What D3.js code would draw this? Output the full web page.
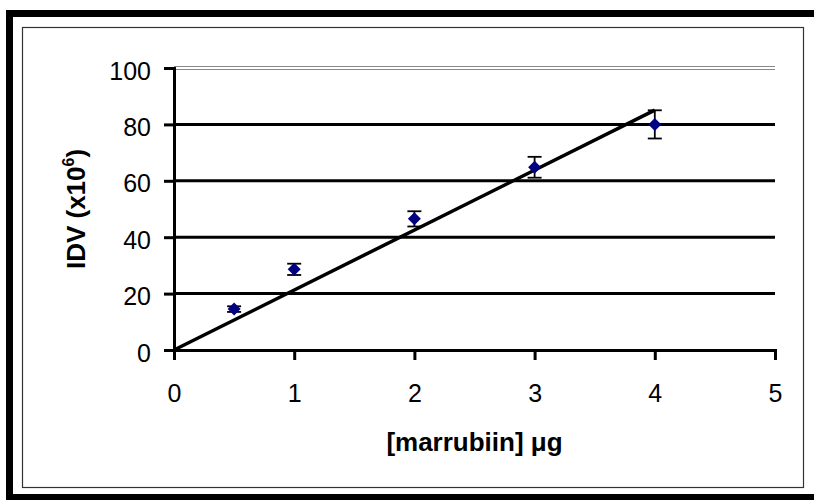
<!DOCTYPE html>
<html>
<head>
<meta charset="utf-8">
<script src="https://cdn.jsdelivr.net/npm/d3@7"></script>
<style>
  html, body { margin: 0; padding: 0; background: #fff; overflow: hidden; }
  svg { display: block; }
  text { font-family: Arial, "Liberation Sans", sans-serif; fill: #000; }
</style>
</head>
<body>
<svg id="chart" width="814" height="500"></svg>
<script>
// Marrubiin calibration data
const amounts = [0.5, 1, 2, 3, 4];          // [marrubiin] µg
const idv = [14.5, 28.6, 46.5, 64.8, 80.0]; // IDV (x10^6)
const idvError = [1.0, 2.0, 2.7, 3.7, 5.0]; // ± error
const xTicks = [0, 1, 2, 3, 4, 5];
const yTicks = [0, 20, 40, 60, 80, 100];

const FONT = "Arial, 'Liberation Sans', sans-serif";
const svg = d3.select("#chart");

// Heavy frame: top, left and bottom bands (open to the right edge)
const frame = svg.append("g").attr("fill", "#000");
frame.append("rect").attr("x", 6).attr("y", 10).attr("width", 808).attr("height", 7);
frame.append("rect").attr("x", 6).attr("y", 10).attr("width", 7).attr("height", 490);
frame.append("rect").attr("x", 6).attr("y", 494).attr("width", 808).attr("height", 6);

// Chart area border
svg.append("rect")
  .attr("x", 22.5).attr("y", 27.5)
  .attr("width", 781).attr("height", 460)
  .attr("fill", "#fff").attr("stroke", "#333").attr("stroke-width", 1.2);

const x = d3.scaleLinear().domain([0, 5]).range([174, 775]);
const y = d3.scaleLinear().domain([0, 100]).range([350, 68]);

// Horizontal gridlines
const g = svg.append("g");
g.selectAll("line.grid")
  .data(yTicks.filter(v => v > 0 && v < 100))
  .join("line")
  .attr("class", "grid")
  .attr("x1", x(0)).attr("x2", x(5))
  .attr("y1", d => y(d)).attr("y2", d => y(d))
  .attr("stroke", "#000").attr("stroke-width", 3);

// Top boundary at 100 rendered as a double rule
[-1.5, 1.5].forEach(off => {
  g.append("line")
    .attr("x1", x(0)).attr("x2", x(5))
    .attr("y1", y(100) + off).attr("y2", y(100) + off)
    .attr("stroke", "#888").attr("stroke-width", 1);
});

// Y axis
const yAxis = d3.axisLeft(y).tickValues(yTicks).tickSize(10).tickPadding(13)
  .tickFormat(d3.format("d"));
const yg = svg.append("g").attr("transform", `translate(${x(0)},0)`).call(yAxis);
yg.select(".domain").attr("stroke", "#000").attr("stroke-width", 3);
yg.selectAll(".tick line").attr("stroke", "#000").attr("stroke-width", 3);
yg.selectAll(".tick text")
  .attr("font-size", 25).attr("font-family", FONT).attr("dy", "0.44em");

// X axis
const xAxis = d3.axisBottom(x).tickValues(xTicks).tickSize(10).tickPadding(24)
  .tickFormat(d3.format("d"));
const xg = svg.append("g").attr("transform", `translate(0,${y(0)})`).call(xAxis);
xg.select(".domain").attr("stroke", "#000").attr("stroke-width", 3);
xg.selectAll(".tick line").attr("stroke", "#000").attr("stroke-width", 3);
xg.selectAll(".tick text")
  .attr("font-size", 25).attr("font-family", FONT);

// Linear trend through the origin (least squares, zero intercept)
const slope = d3.sum(amounts, (a, i) => a * idv[i]) / d3.sum(amounts, a => a * a);
svg.append("line")
  .attr("x1", x(0)).attr("y1", y(0))
  .attr("x2", x(4)).attr("y2", y(slope * 4))
  .attr("stroke", "#000").attr("stroke-width", 3.5).attr("stroke-linecap", "butt");

// Error bars
const eb = svg.append("g").attr("stroke", "#000").attr("stroke-width", 1.8);
amounts.forEach((a, i) => {
  const cx = x(a);
  const top = y(idv[i] + idvError[i]);
  const bot = y(idv[i] - idvError[i]);
  eb.append("line").attr("x1", cx).attr("x2", cx).attr("y1", top).attr("y2", bot);
  eb.append("line").attr("x1", cx - 7).attr("x2", cx + 7).attr("y1", top).attr("y2", top);
  eb.append("line").attr("x1", cx - 7).attr("x2", cx + 7).attr("y1", bot).attr("y2", bot);
});

// Diamond markers
svg.append("g").selectAll("path")
  .data(amounts.map((a, i) => [a, idv[i]]))
  .join("path")
  .attr("d", d => {
    const cx = x(d[0]), cy = y(d[1]), r = 6.5;
    return `M${cx},${cy - r}L${cx + r},${cy}L${cx},${cy + r}L${cx - r},${cy}Z`;
  })
  .attr("fill", "#000080");

// Axis titles
svg.append("text")
  .attr("x", (x(0) + x(5)) / 2).attr("y", 451)
  .attr("text-anchor", "middle")
  .attr("font-size", 26).attr("font-weight", "bold")
  .text("[marrubiin] μg");

const yt = svg.append("text")
  .attr("transform", `translate(85,${(y(0) + y(100)) / 2}) rotate(-90)`)
  .attr("text-anchor", "middle")
  .attr("font-size", 26).attr("font-weight", "bold");
yt.append("tspan").text("IDV (x10");
yt.append("tspan").attr("font-size", 16).attr("dy", -11).text("6");
yt.append("tspan").attr("dy", 11).text(")");
</script>
</body>
</html>
